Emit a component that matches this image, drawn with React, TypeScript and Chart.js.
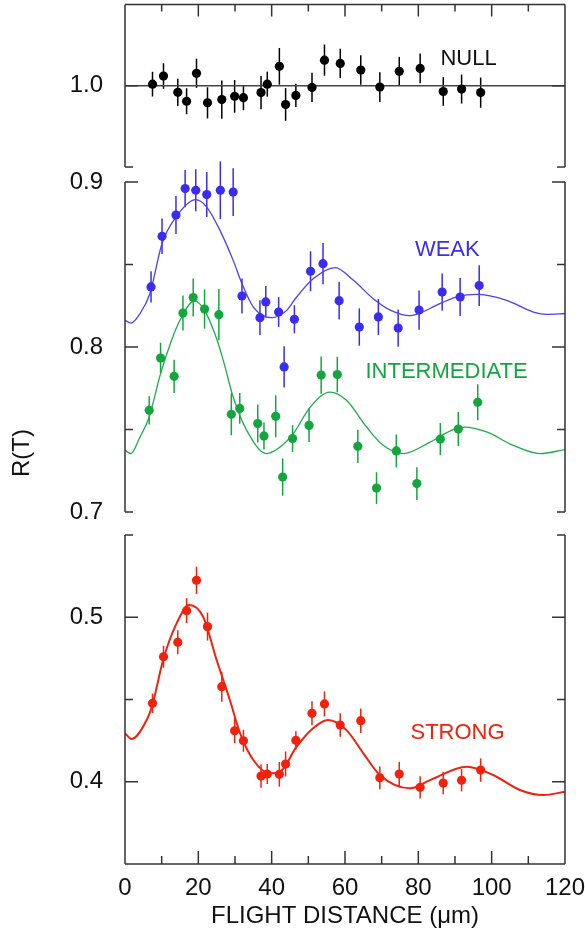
import React, { useEffect, useRef } from "react";
import { Chart, registerables } from "chart.js";

Chart.register(...registerables);

const FONT = "'Liberation Sans', Arial, Helvetica, sans-serif";
const W = 585;
const H = 938;

// ---- x axis ----
const xTickValues = [0, 10, 20, 30, 40, 50, 60, 70, 80, 90, 100, 110, 120];
const xLabelValues = [0, 20, 40, 60, 80, 100, 120];

// ---- NULL ----
const nullDistance = [7.5, 10.5, 14.4, 16.8, 19.5, 22.5, 26.4, 29.9, 32.3, 37.1, 38.8, 42.1, 43.8, 46.6, 51.0, 54.4, 58.7, 64.3, 69.5, 74.8, 80.5, 86.8, 91.8, 97.0];
const nullRatio = [1.001, 1.006, 0.996, 0.9905, 1.0077, 0.9895, 0.9915, 0.9935, 0.9927, 0.9958, 1.001, 1.012, 0.9885, 0.9941, 0.999, 1.0158, 1.0138, 1.0097, 0.9992, 1.0089, 1.0107, 0.9965, 0.998, 0.9958];
const nullError = [0.0076, 0.0079, 0.0084, 0.008, 0.009, 0.0096, 0.0118, 0.0101, 0.0077, 0.0102, 0.0077, 0.0113, 0.0101, 0.0071, 0.009, 0.0096, 0.009, 0.0091, 0.0091, 0.0089, 0.0092, 0.0088, 0.0089, 0.0093];
const nullBaseline = 1.0;

// ---- WEAK ----
const weakDistance = [7.1, 10.1, 13.9, 16.4, 19.3, 22.3, 26.0, 29.5, 31.9, 36.8, 38.4, 41.9, 43.4, 46.2, 50.6, 54.0, 58.4, 63.9, 69.1, 74.5, 80.2, 86.5, 91.4, 96.6];
const weakRatio = [0.8364, 0.8671, 0.88, 0.896, 0.895, 0.8924, 0.895, 0.8939, 0.8309, 0.8178, 0.8273, 0.8212, 0.7879, 0.8168, 0.8459, 0.8505, 0.8281, 0.8121, 0.8182, 0.8115, 0.8224, 0.8333, 0.8303, 0.8372];
const weakError = [0.0095, 0.0108, 0.0115, 0.0113, 0.0127, 0.0136, 0.0175, 0.0145, 0.0106, 0.0106, 0.0096, 0.009, 0.0125, 0.0085, 0.0121, 0.0125, 0.0114, 0.0113, 0.0109, 0.0113, 0.0119, 0.0113, 0.0115, 0.0124];
const weakFitDistance = [0, 1.6, 4.1, 6.8, 10.1, 13.9, 19.3, 22.3, 25.9, 29.5, 31.9, 35, 40, 44.1, 46.8, 51.4, 57.3, 62.3, 67.7, 72.5, 77.7, 85.9, 90.9, 95.9, 104.1, 111.4, 115, 120];
const weakFitRatio = [0.8162, 0.8145, 0.8203, 0.8324, 0.8627, 0.8788, 0.8893, 0.8848, 0.8707, 0.8525, 0.8384, 0.8242, 0.8178, 0.8222, 0.8303, 0.8415, 0.8481, 0.8404, 0.8293, 0.8222, 0.819, 0.8263, 0.8307, 0.8319, 0.8283, 0.8212, 0.8198, 0.8203];

// ---- INTERMEDIATE ----
const interDistance = [6.6, 9.7, 13.4, 15.8, 18.6, 21.7, 25.6, 29.0, 31.3, 36.2, 37.9, 41.1, 43.0, 45.7, 50.2, 53.5, 57.9, 63.5, 68.6, 74.0, 79.6, 86.0, 90.9, 96.2];
const interRatio = [0.7616, 0.7933, 0.7822, 0.8206, 0.83, 0.823, 0.8196, 0.7592, 0.7628, 0.7536, 0.7461, 0.758, 0.7212, 0.7445, 0.7525, 0.783, 0.7833, 0.7398, 0.7145, 0.737, 0.7172, 0.7442, 0.7503, 0.7665];
const interError = [0.0085, 0.0093, 0.0101, 0.0106, 0.0115, 0.0119, 0.0155, 0.0127, 0.0093, 0.0115, 0.0082, 0.0127, 0.0113, 0.0081, 0.0101, 0.0113, 0.0108, 0.0101, 0.0096, 0.01, 0.0099, 0.0098, 0.0104, 0.0109];
const interFitDistance = [0, 1.6, 4.0, 6.6, 9.7, 12.7, 15, 18.9, 21.7, 25, 26.8, 29.5, 33.2, 38.6, 42.3, 45.9, 50.5, 55.9, 60.4, 65.9, 70.4, 75.9, 83.2, 89.5, 92.7, 98.6, 105.9, 113.2, 120];
const interFitRatio = [0.7374, 0.7354, 0.745, 0.7576, 0.7839, 0.8041, 0.8162, 0.8279, 0.8222, 0.805, 0.7919, 0.7697, 0.7495, 0.7354, 0.7394, 0.7475, 0.7636, 0.7727, 0.7677, 0.7515, 0.7404, 0.7354, 0.7424, 0.7499, 0.7515, 0.7485, 0.7404, 0.7354, 0.7378];

// ---- STRONG ----
const strongDistance = [7.5, 10.5, 14.4, 16.8, 19.5, 22.5, 26.4, 29.9, 32.3, 37.1, 38.8, 42.1, 43.8, 46.6, 51.0, 54.4, 58.7, 64.3, 69.5, 74.8, 80.5, 86.8, 91.8, 97.0];
const strongRatio = [0.4477, 0.476, 0.4848, 0.504, 0.5225, 0.4943, 0.4578, 0.431, 0.4249, 0.4035, 0.4047, 0.4045, 0.4108, 0.4252, 0.4416, 0.4473, 0.4345, 0.4371, 0.4024, 0.4047, 0.3966, 0.3992, 0.4009, 0.4071];
const strongError = [0.0059, 0.0067, 0.0073, 0.0076, 0.0083, 0.0085, 0.0091, 0.0076, 0.0067, 0.0071, 0.0061, 0.0075, 0.0076, 0.0055, 0.0073, 0.0076, 0.0071, 0.0074, 0.0069, 0.0074, 0.0068, 0.0068, 0.0068, 0.0071];
const strongFitDistance = [0, 1.8, 5.9, 7.5, 10.4, 14.1, 17.5, 21.3, 25, 28.6, 31.4, 35, 39.5, 42.3, 46.8, 51.3, 55.4, 60.4, 65, 69.5, 77.7, 83.2, 93.2, 100.4, 107.7, 114.1, 120];
const strongFitRatio = [0.4294, 0.426, 0.4375, 0.447, 0.474, 0.4964, 0.5075, 0.5004, 0.474, 0.4497, 0.4294, 0.4132, 0.4051, 0.4061, 0.4213, 0.4325, 0.4375, 0.4314, 0.4173, 0.4041, 0.396, 0.401, 0.4091, 0.4041, 0.395, 0.3919, 0.3939];

const BLUE = "#3a2cf0";
const GREEN = "#14a63e";
const RED = "#f2200c";
const AXIS = "#333333";

interface Series { x: number[]; y: number[]; err: number[]; color: string }
interface Fit { x: number[]; y: number[]; color: string; width: number }
interface Label { text: string; x: number; y: number; color: string }
interface Panel {
  areaTop: number;
  areaBottom: number;
  yMin: number;
  yMax: number;
  yLabels: number[];
  yMarks: { v: number; long: boolean }[];
  topAxis: boolean;
  bottomAxis: boolean;
  baseline?: number;
  labels: Label[];
  series: Series[];
  fits: Fit[];
  yTitle?: boolean;
}

const panels: Panel[] = [
  {
    areaTop: 3, areaBottom: 167, yMin: 0.95, yMax: 1.05,
    yLabels: [1.0],
    yMarks: [{ v: 0.95, long: false }, { v: 1.0, long: true }],
    topAxis: true, bottomAxis: false, baseline: nullBaseline,
    labels: [{ text: "NULL", x: 93.7, y: 1.0164, color: "#111" }],
    series: [{ x: nullDistance, y: nullRatio, err: nullError, color: "#000" }],
    fits: [],
  },
  {
    areaTop: 182, areaBottom: 512, yMin: 0.7, yMax: 0.9,
    yLabels: [0.9, 0.8, 0.7],
    yMarks: [{ v: 0.9, long: true }, { v: 0.85, long: false }, { v: 0.8, long: true }, { v: 0.75, long: false }, { v: 0.7, long: false }],
    topAxis: false, bottomAxis: false,
    labels: [
      { text: "WEAK", x: 87.9, y: 0.8586, color: BLUE },
      { text: "INTERMEDIATE", x: 87.7, y: 0.7847, color: GREEN },
    ],
    series: [
      { x: weakDistance, y: weakRatio, err: weakError, color: BLUE },
      { x: interDistance, y: interRatio, err: interError, color: GREEN },
    ],
    fits: [
      { x: weakFitDistance, y: weakFitRatio, color: "#4a40f0", width: 1.3 },
      { x: interFitDistance, y: interFitRatio, color: "#1eab4a", width: 1.3 },
    ],
    yTitle: true,
  },
  {
    areaTop: 535, areaBottom: 864, yMin: 0.35, yMax: 0.55,
    yLabels: [0.5, 0.4],
    yMarks: [{ v: 0.55, long: false }, { v: 0.5, long: true }, { v: 0.45, long: false }, { v: 0.4, long: true }],
    topAxis: false, bottomAxis: true,
    labels: [{ text: "STRONG", x: 90.7, y: 0.4296, color: RED }],
    series: [{ x: strongDistance, y: strongRatio, err: strongError, color: RED }],
    fits: [{ x: strongFitDistance, y: strongFitRatio, color: RED, width: 2 }],
  },
];

function panelPlugin(p: Panel) {
  return {
    id: "panelDecor",
    beforeDatasetsDraw(chart: any) {
      const ctx = chart.ctx;
      const xs = chart.scales.x;
      const ys = chart.scales.y;
      ctx.save();
      ctx.lineWidth = 1.5;
      p.series.forEach((s) => {
        ctx.strokeStyle = s.color;
        s.x.forEach((xv, i) => {
          const px = xs.getPixelForValue(xv);
          ctx.beginPath();
          ctx.moveTo(px, ys.getPixelForValue(s.y[i] + s.err[i]));
          ctx.lineTo(px, ys.getPixelForValue(s.y[i] - s.err[i]));
          ctx.stroke();
        });
      });
      if (p.baseline !== undefined) {
        const by = ys.getPixelForValue(p.baseline);
        ctx.strokeStyle = "#444";
        ctx.lineWidth = 1.6;
        ctx.beginPath();
        ctx.moveTo(chart.chartArea.left, by);
        ctx.lineTo(chart.chartArea.right, by);
        ctx.stroke();
      }
      ctx.restore();
    },
    afterDraw(chart: any) {
      const ctx = chart.ctx;
      const xs = chart.scales.x;
      const ys = chart.scales.y;
      const { left, right, top, bottom } = chart.chartArea;
      ctx.save();
      ctx.strokeStyle = AXIS;
      ctx.lineWidth = 1.5;
      ctx.beginPath();
      ctx.moveTo(left, top);
      ctx.lineTo(left, bottom);
      ctx.moveTo(right, top);
      ctx.lineTo(right, bottom);
      p.yMarks.forEach((m) => {
        const py = ys.getPixelForValue(m.v);
        const len = m.long ? 13 : 8;
        ctx.moveTo(left, py);
        ctx.lineTo(left + len, py);
        ctx.moveTo(right, py);
        ctx.lineTo(right - len, py);
      });
      if (p.topAxis) {
        ctx.moveTo(left, top);
        ctx.lineTo(right, top);
        xTickValues.forEach((v) => {
          const px = xs.getPixelForValue(v);
          const len = v % 20 === 0 ? 12 : 7;
          ctx.moveTo(px, top);
          ctx.lineTo(px, top + len);
        });
      }
      if (p.bottomAxis) {
        ctx.moveTo(left, bottom);
        ctx.lineTo(right, bottom);
        xTickValues.forEach((v) => {
          const px = xs.getPixelForValue(v);
          const len = v % 20 === 0 ? 13 : 8;
          ctx.moveTo(px, bottom);
          ctx.lineTo(px, bottom - len);
        });
      }
      ctx.stroke();

      ctx.textAlign = "center";
      ctx.textBaseline = "middle";
      ctx.font = `22px ${FONT}`;
      p.labels.forEach((l) => {
        ctx.fillStyle = l.color;
        ctx.fillText(l.text, xs.getPixelForValue(l.x), ys.getPixelForValue(l.y));
      });

      if (p.yTitle) {
        ctx.save();
        ctx.translate(22, 453);
        ctx.rotate(-Math.PI / 2);
        ctx.fillStyle = "#111";
        ctx.font = `24px ${FONT}`;
        ctx.fillText("R(T)", 0, 0);
        ctx.restore();
      }
      ctx.restore();
    },
  };
}

function buildChart(canvas: HTMLCanvasElement, p: Panel) {
  const datasets: any[] = [];
  p.series.forEach((s) =>
    datasets.push({
      type: "scatter",
      data: s.x.map((x, i) => ({ x, y: s.y[i] })),
      backgroundColor: s.color,
      borderColor: s.color,
      pointRadius: 4.6,
      pointBorderWidth: 0,
      showLine: false,
    })
  );
  p.fits.forEach((f) =>
    datasets.push({
      type: "line",
      data: f.x.map((x, i) => ({ x, y: f.y[i] })),
      borderColor: f.color,
      borderWidth: f.width,
      pointRadius: 0,
      cubicInterpolationMode: "monotone",
      fill: false,
    })
  );
  const showX = p.bottomAxis;
  return new Chart(canvas, {
    type: "scatter",
    data: { datasets },
    options: {
      animation: false,
      responsive: false,
      maintainAspectRatio: false,
      events: [],
      layout: {
        padding: { left: 0, right: W - 565, top: p.areaTop, bottom: showX ? 0 : H - p.areaBottom },
      },
      plugins: { legend: { display: false }, tooltip: { enabled: false } },
      scales: {
        x: {
          type: "linear",
          min: 0,
          max: 120,
          display: showX,
          grid: { display: false, drawTicks: true, tickLength: 10 },
          border: { display: false },
          afterBuildTicks: (s: any) => {
            s.ticks = xLabelValues.map((v) => ({ value: v }));
          },
          afterFit: (s: any) => {
            if (showX) s.height = H - p.areaBottom;
          },
          ticks: {
            font: { size: 24, family: FONT },
            color: "#111",
            padding: 0,
            maxRotation: 0,
            autoSkip: false,
          },
          title: {
            display: showX,
            text: "FLIGHT DISTANCE (μm)",
            font: { size: 24, family: FONT },
            color: "#111",
            padding: { top: 0, bottom: 7 },
          },
        },
        y: {
          type: "linear",
          min: p.yMin,
          max: p.yMax,
          grid: { display: false, drawTicks: false },
          border: { display: false },
          afterBuildTicks: (s: any) => {
            s.ticks = p.yLabels.map((v) => ({ value: v }));
          },
          afterFit: (s: any) => {
            s.width = 125;
            s.paddingTop = 0;
            s.paddingBottom = 0;
          },
          ticks: {
            font: { size: 24, family: FONT },
            color: "#111",
            padding: 22,
            callback: (v: any) => Number(v).toFixed(1),
          },
        },
      },
    } as any,
    plugins: [panelPlugin(p)],
  });
}

export default function App() {
  const r0 = useRef<HTMLCanvasElement>(null);
  const r1 = useRef<HTMLCanvasElement>(null);
  const r2 = useRef<HTMLCanvasElement>(null);

  useEffect(() => {
    document.body.style.margin = "0";
    const refs = [r0, r1, r2];
    const charts = refs.map((r, i) => buildChart(r.current as HTMLCanvasElement, panels[i]));
    return () => charts.forEach((c) => c.destroy());
  }, []);

  const cs: React.CSSProperties = { position: "absolute", left: 0, top: 0, width: W, height: H };
  return (
    <div style={{ position: "relative", width: W, height: H, overflow: "hidden", background: "#fff" }}>
      <canvas ref={r0} width={W} height={H} style={cs} />
      <canvas ref={r1} width={W} height={H} style={cs} />
      <canvas ref={r2} width={W} height={H} style={cs} />
    </div>
  );
}
